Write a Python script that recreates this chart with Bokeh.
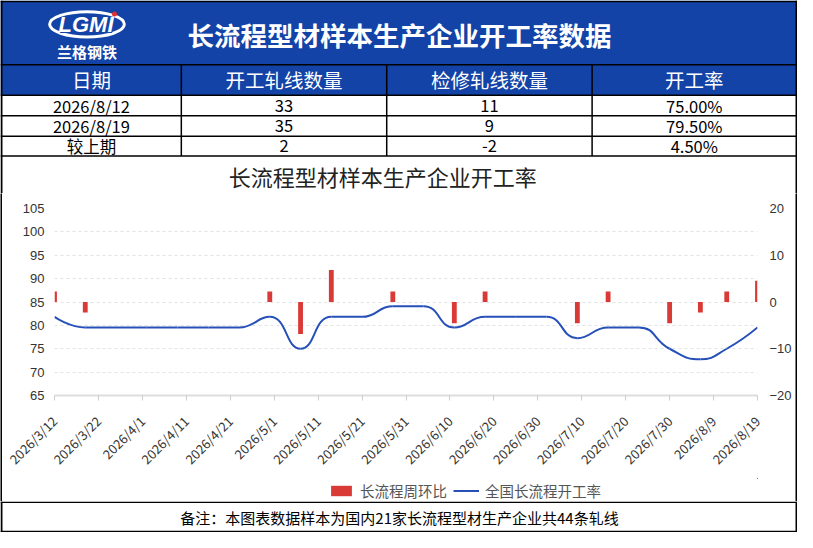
import math
from datetime import datetime

from bokeh.plotting import figure
from bokeh.models import Range1d, LinearAxis, FixedTicker, Legend, LegendItem
from bokeh.layouts import column, row
from bokeh.embed import file_html
from bokeh.resources import INLINE
from bokeh.core.properties import value

# ---------------- data ----------------
main_title = "长流程型材样本生产企业开工率数据"
logo_text = "LGMI"
logo_cn = "兰格钢铁"
table_header = ["日期", "开工轧线数量", "检修轧线数量", "开工率"]
table_col1 = ["2026/8/12", "2026/8/19", "较上期"]
table_col2 = ["33", "35", "2"]
table_col3 = ["11", "9", "-2"]
table_col4 = ["75.00%", "79.50%", "4.50%"]

chart_title = "长流程型材样本生产企业开工率"
bar_name = "长流程周环比"
line_name = "全国长流程开工率"
footnote = "备注：本图表数据样本为国内21家长流程型材生产企业共44条轧线"

week_dates = ["2026/3/12", "2026/3/19", "2026/3/26", "2026/4/2", "2026/4/9", "2026/4/16",
              "2026/4/23", "2026/4/30", "2026/5/7", "2026/5/14", "2026/5/21", "2026/5/28",
              "2026/6/4", "2026/6/11", "2026/6/18", "2026/6/25", "2026/7/2", "2026/7/9",
              "2026/7/16", "2026/7/23", "2026/7/30", "2026/8/6", "2026/8/12", "2026/8/19"]
run_rate = [81.82, 79.55, 79.55, 79.55, 79.55, 79.55,
            79.55, 81.82, 75.00, 81.82, 81.82, 84.09,
            84.09, 79.55, 81.82, 81.82, 81.82, 77.27,
            79.55, 79.55, 75.00, 72.73, 75.00, 79.55]
week_change = [2.27, -2.27, 0, 0, 0, 0,
               0, 2.27, -6.82, 6.82, 0, 2.27,
               0, -4.55, 2.27, 0, 0, -4.55,
               2.27, 0, -4.55, -2.27, 2.27, 4.55]

x_tick_labels = ["2026/3/12", "2026/3/22", "2026/4/1", "2026/4/11", "2026/4/21", "2026/5/1",
                 "2026/5/11", "2026/5/21", "2026/5/31", "2026/6/10", "2026/6/20", "2026/6/30",
                 "2026/7/10", "2026/7/20", "2026/7/30", "2026/8/9", "2026/8/19"]
left_ticks = [65, 70, 75, 80, 85, 90, 95, 100, 105]
right_ticks = [-20, -10, 0, 10, 20]

# ---------------- styles ----------------
BLUE = "#1343a6"
RED = "#d93a36"
LINE_BLUE = "#2650b8"
CJK = "Noto Sans CJK SC"
W = 797
SY = 0.9726          # vertical scale from the 548px reference to the 532px page
TOP_H = 193
CH = 285
LEG_H = 23
FOOT_H = 31
MID_H = CH + LEG_H


def to_day(s, base=datetime(2026, 3, 12)):
    return (datetime.strptime(s, "%Y/%m/%d") - base).days


days = [to_day(d) for d in week_dates]
tick_days = [to_day(d) for d in x_tick_labels]


def smooth_bezier(xs, ys, kx, ky, smooth=0.5):
    """ECharts-style smooth line control points, computed in screen-like space."""
    P = [(x * kx, y * ky) for x, y in zip(xs, ys)]
    n = len(P)
    out = {k: [] for k in ("x0", "y0", "x1", "y1", "cx0", "cy0", "cx1", "cy1")}
    cp0 = P[0]
    for i in range(1, n):
        x, y = P[i]
        px, py = P[i - 1]
        if i == n - 1:
            cp1 = (x, y)
            ncp0 = None
        else:
            nx, ny = P[i + 1]
            vx, vy = nx - px, ny - py
            l0 = math.hypot(x - px, y - py)
            l1 = math.hypot(nx - x, ny - y)
            r = l1 / (l0 + l1)
            ncx = x + vx * smooth * r
            ncy = y + vy * smooth * r
            ncx = max(min(ncx, max(nx, x)), min(nx, x))
            ncy = max(min(ncy, max(ny, y)), min(ny, y))
            vx, vy = ncx - x, ncy - y
            c1x = x - vx * l0 / l1
            c1y = y - vy * l0 / l1
            c1x = max(min(c1x, max(px, x)), min(px, x))
            c1y = max(min(c1y, max(py, y)), min(py, y))
            vx, vy = x - c1x, y - c1y
            ncp0 = (x + vx * l1 / l0, y + vy * l1 / l0)
            cp1 = (c1x, c1y)
        out["x0"].append(px / kx); out["y0"].append(py / ky)
        out["x1"].append(x / kx); out["y1"].append(y / ky)
        out["cx0"].append(cp0[0] / kx); out["cy0"].append(cp0[1] / ky)
        out["cx1"].append(cp1[0] / kx); out["cy1"].append(cp1[1] / ky)
        cp0 = ncp0
    return out


def plain(width, height, xr, yr):
    f = figure(width=width, height=height, x_range=xr, y_range=yr,
               output_backend="svg", toolbar_location=None, min_border=0,
               x_axis_type=None, y_axis_type=None)
    f.outline_line_color = None
    f.grid.visible = False
    f.background_fill_color = "white"
    f.border_fill_color = "white"
    return f


# ---------------- header, table and chart title ----------------
TOP_Y = TOP_H / SY
tab = plain(W, TOP_H, Range1d(0, 811), Range1d(TOP_Y, 0))
tab.quad(left=[0], right=[811], top=[0], bottom=[97.5], fill_color=BLUE, line_color=None)

# logo
tab.ellipse(x=[88], y=[24.5], width=[76], height=[26], fill_color=None,
            line_color="white", line_width=3)
tab.text(x=[88], y=[25.5], text=[logo_text], text_align="center", text_baseline="middle",
         text_color=BLUE, text_font=value("Liberation Sans"), text_font_style="bold italic",
         text_font_size=value("22px"), text_line_height=1.0)
tab.text(x=[87], y=[24.5], text=[logo_text], text_align="center", text_baseline="middle",
         text_color="white", text_font=value("Liberation Sans"), text_font_style="bold italic",
         text_font_size=value("22px"), text_line_height=1.0)
tab.scatter(x=[116], y=[14], size=5, marker="circle", fill_color="#e03030", line_color=None)
tab.text(x=[88], y=[52], text=[logo_cn], text_align="center", text_baseline="middle",
         text_color="white", text_font=value(CJK), text_font_style="bold",
         text_font_size=value("15px"))

tab.text(x=[406], y=[35], text=[main_title], text_align="center", text_baseline="middle",
         text_color="white", text_font=value(CJK), text_font_style="bold",
         text_font_size=value("26.5px"))

col_edges = [1, 184, 393, 602, 810]
col_centers = [(a + b) / 2 for a, b in zip(col_edges[:-1], col_edges[1:])]
tab.text(x=col_centers, y=[81.5] * 4, text=table_header, text_align="center",
         text_baseline="middle", text_color="white", text_font=value(CJK),
         text_font_size=value("19.5px"))
row_y = [108, 129, 150]
for cx, vals in zip(col_centers, [table_col1, table_col2, table_col3, table_col4]):
    tab.text(x=[cx] * 3, y=row_y, text=vals, text_align="center", text_baseline="middle",
             text_color="black", text_font=value(CJK), text_font_size=value("16.5px"))

h_lines = [1, 66, 97.5, 118.5, 139.5, 160]
tab.segment(x0=[0] * len(h_lines), x1=[811] * len(h_lines), y0=h_lines, y1=h_lines,
            line_color="black", line_width=1.5)
tab.segment(x0=[1, 810], x1=[1, 810], y0=[0, 0], y1=[TOP_Y, TOP_Y],
            line_color="black", line_width=2)
tab.segment(x0=col_edges[1:-1], x1=col_edges[1:-1], y0=[66] * 3, y1=[160] * 3,
            line_color="black", line_width=1.5)

tab.text(x=[389], y=[180], text=[chart_title], text_align="center", text_baseline="middle",
         text_color="#222222", text_font=value(CJK), text_font_size=value("22px"))

# ---------------- chart ----------------
chart = figure(width=W - 4, height=CH, x_range=Range1d(0, 160), y_range=Range1d(65, 105),
               output_backend="svg", toolbar_location=None,
               min_border_left=52, min_border_right=38, min_border_top=15, min_border_bottom=83)
chart.outline_line_color = None
chart.background_fill_color = "white"
chart.border_fill_color = "white"
chart.extra_y_ranges = {"chg": Range1d(-20, 20)}

chart.xgrid.visible = False
chart.ygrid.ticker = FixedTicker(ticks=left_ticks)
chart.ygrid.grid_line_color = "#e2e2e2"
chart.ygrid.grid_line_dash = "3 3"
chart.ygrid.grid_line_width = 1

xa = chart.xaxis[0]
xa.ticker = FixedTicker(ticks=tick_days)
xa.major_label_overrides = {d: lab for d, lab in zip(tick_days, x_tick_labels)}
xa.major_label_orientation = math.pi / 4
xa.axis_line_color = "#dddddd"
xa.axis_line_width = 2
xa.major_tick_line_color = "#cccccc"
xa.major_tick_in = 0
xa.major_tick_out = 5
xa.minor_tick_line_color = None
xa.major_label_text_font = CJK
xa.major_label_text_font_size = "13px"
xa.major_label_text_color = "#333333"
xa.major_label_standoff = 18

ya = chart.yaxis[0]
ya.ticker = FixedTicker(ticks=left_ticks)
ya.axis_line_color = None
ya.major_tick_line_color = None
ya.minor_tick_line_color = None
ya.major_tick_out = 0
ya.major_label_standoff = 10
ya.major_label_text_font = "Liberation Sans"
ya.major_label_text_font_size = "13px"
ya.major_label_text_color = "#333333"

ra = LinearAxis(y_range_name="chg", ticker=FixedTicker(ticks=right_ticks),
                major_label_overrides={-10: "\u221210", -20: "\u221220"})
ra.axis_line_color = None
ra.major_tick_line_color = None
ra.minor_tick_line_color = None
ra.major_tick_out = 0
ra.major_label_standoff = 12
ra.major_label_text_font = "Liberation Sans"
ra.major_label_text_font_size = "13px"
ra.major_label_text_color = "#333333"
chart.add_layout(ra, "right")

bars = chart.vbar(x=days, top=week_change, bottom=0, width=1.1, y_range_name="chg",
                  fill_color=RED, line_color=None)

# pixel-like aspect for smoothing (px per day, px per rate point)
seg = smooth_bezier(days, run_rate, 4.39, 4.65)
curve = chart.bezier(x0=seg["x0"], y0=seg["y0"], x1=seg["x1"], y1=seg["y1"],
                     cx0=seg["cx0"], cy0=seg["cy0"], cx1=seg["cx1"], cy1=seg["cy1"],
                     line_color=LINE_BLUE, line_width=2)

# ---------------- legend strip (below the axis labels) ----------------
# The strip's ranges lie outside the data, so its series only supply legend swatches.
leg = plain(W - 4, LEG_H, Range1d(-30, -20), Range1d(-300, -200))
bar_key = leg.vbar(x=days, top=week_change, bottom=0, width=1.1, fill_color=RED, line_color=None)
line_key = leg.line(x=days, y=run_rate, line_color=LINE_BLUE, line_width=2)
legend = Legend(items=[LegendItem(label=bar_name, renderers=[bar_key]),
                       LegendItem(label=line_name, renderers=[line_key])],
                orientation="horizontal", location=(274, 0),
                border_line_color=None, background_fill_alpha=0,
                label_text_font=CJK, label_text_font_size="14.5px",
                label_text_color="#555555", glyph_width=26, glyph_height=13,
                label_height=14, label_standoff=6, spacing=6, padding=1, margin=0)
leg.add_layout(legend, "center")


def edge(h):
    f = plain(2, h, Range1d(0, 1), Range1d(0, 1))
    f.background_fill_color = "black"
    f.border_fill_color = "black"
    return f


mid = row(edge(MID_H), column(chart, leg, spacing=0), edge(MID_H), spacing=0)

# ---------------- footer ----------------
foot = plain(W, FOOT_H, Range1d(0, 811), Range1d(547, 515))
foot.text(x=[406], y=[531], text=[footnote], text_align="center", text_baseline="middle",
          text_color="black", text_font=value(CJK), text_font_size=value("15px"))
foot.segment(x0=[0, 0], x1=[811, 811], y0=[515.7, 546], y1=[515.7, 546],
             line_color="black", line_width=1.5)
foot.segment(x0=[1, 810], x1=[1, 810], y0=[515, 515], y1=[547, 547],
             line_color="black", line_width=2)

page = column(tab, mid, foot, spacing=0)

open("out.html", "w").write(file_html(page, INLINE))
